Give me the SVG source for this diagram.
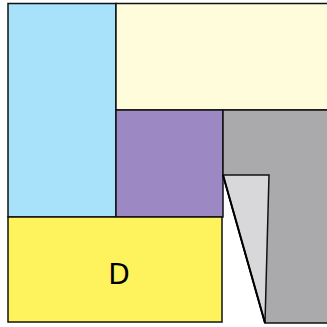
<svg xmlns="http://www.w3.org/2000/svg" width="327" height="327" viewBox="0 0 327 327">
<style>
.s{stroke:#111;stroke-width:1.5;stroke-linejoin:miter}
.t{font-family:"DejaVu Sans",sans-serif;font-size:28px;fill:#000;text-anchor:middle;dominant-baseline:central}
</style>
<rect width="327" height="327" fill="#fff"/>
<g id="A"><rect class="s" x="8" y="3.5" width="108" height="213.5" fill="#a7e1fa"/></g>
<g id="B"><rect class="s" x="116" y="3.5" width="215" height="106.5" fill="#fffcdc"/></g>
<g id="C"><rect class="s" x="116" y="110" width="107" height="107" fill="#9c88c3"/></g>
<g id="E"><polygon class="s" points="223,110 331,110 331,323 265,323 223,175" fill="#aaaaad"/></g>
<g id="F"><polygon class="s" points="223,175 269,175 265,323" fill="#d8d8da"/><line x1="223" y1="175" x2="265" y2="323" stroke="#000" stroke-width="2"/></g>
<g id="D"><rect class="s" x="8" y="217" width="214" height="105" fill="#fff35d"/><text class="t" x="119" y="274">D</text></g>
</svg>
